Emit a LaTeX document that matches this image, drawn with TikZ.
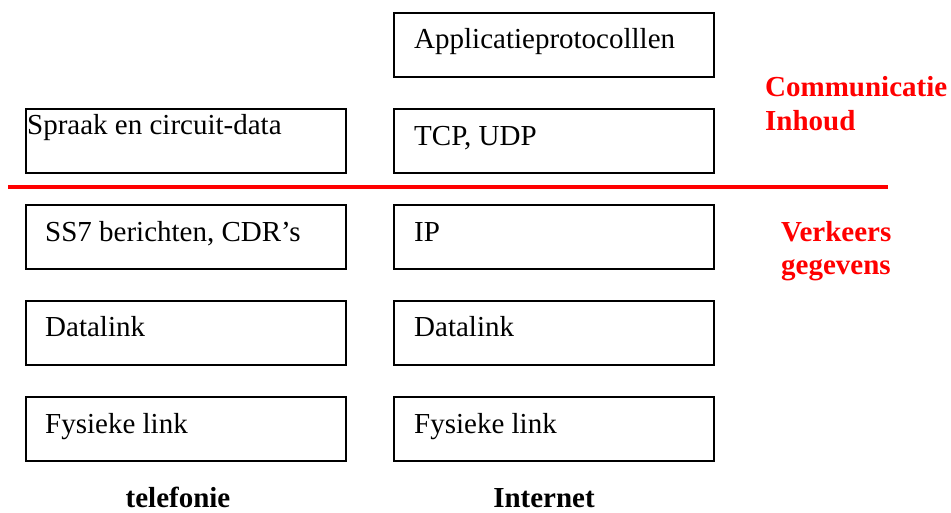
\documentclass[tikz,border=0pt]{standalone}
\usepackage{fontspec}
\setmainfont{Liberation Serif}
\begin{document}
\begin{tikzpicture}[x=1pt,y=-1pt,
  layer/.style={draw=black,line width=2pt,fill=white,minimum width=320pt,minimum height=64pt,inner sep=0pt,anchor=north west},
  ltext/.style={anchor=base west,inner sep=0pt,font=\fontsize{29}{34}\selectfont},
  rlabel/.style={anchor=base west,inner sep=0pt,text=red,font=\fontsize{29}{34}\selectfont\bfseries,align=left},
  blabel/.style={anchor=base,inner sep=0pt,font=\fontsize{29}{34}\selectfont\bfseries}]
\useasboundingbox (0,0) rectangle (951,513);
% right column
\node[layer] (app) at (393,12) {};
\node[layer] (tcp) at (393,108) {};
\node[layer] (ip) at (393,204) {};
\node[layer] (dlr) at (393,300) {};
\node[layer] (fyr) at (393,396) {};
% left column
\node[layer] (spr) at (25,108) {};
\node[layer] (ss7) at (25,204) {};
\node[layer] (dll) at (25,300) {};
\node[layer] (fyl) at (25,396) {};
% texts
\node[ltext] (tapp) at (414,49) {Applicatieprotocolllen};
\node[ltext] (ttcp) at (414,146) {TCP, UDP};
\node[ltext] (tip) at (414,242) {IP};
\node[ltext] (tdlr) at (414,337) {Datalink};
\node[ltext] (tfyr) at (414,433) {Fysieke link};
\node[ltext] (tspr) at (27,135) {Spraak en circuit-data};
\node[ltext] (tss7) at (45,242) {SS7 berichten, CDR’s};
\node[ltext] (tdll) at (45,337) {Datalink};
\node[ltext] (tfyl) at (45,433) {Fysieke link};
% divider
\coordinate (d1) at (8,187);
\coordinate (d2) at (888,187);
\draw[red,line width=3.5pt] (d1) -- (d2);
% red labels
\node[rlabel] (comm) at (765,97) {Communicatie};
\node[rlabel] (inh) at (765,131) {Inhoud};
\node[rlabel] (verk) at (781,242) {Verkeers};
\node[rlabel] (geg) at (781,275) {gegevens};
% bottom labels
\node[blabel] (tel) at (178,507) {telefonie};
\node[blabel] (inet) at (544,507) {Internet};
\end{tikzpicture}
\end{document}
